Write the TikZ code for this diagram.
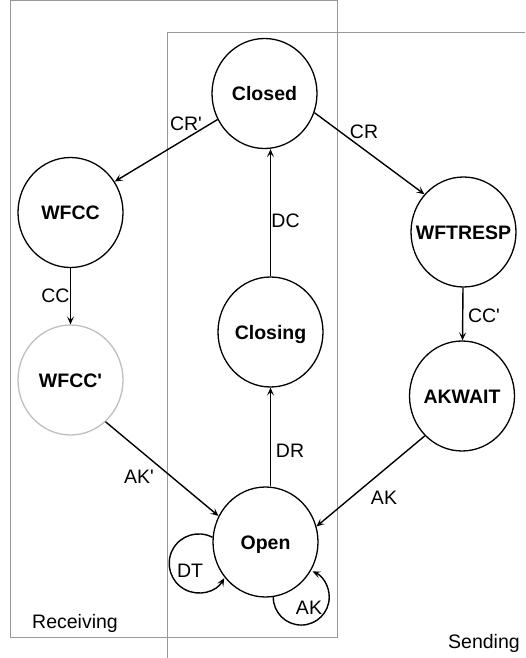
\documentclass[tikz,border=0pt]{standalone}
\usepackage{fontspec}
\setmainfont{Liberation Sans}
\usetikzlibrary{shapes.geometric,arrows.meta}

\begin{document}
\begin{tikzpicture}[x=1pt,y=-1pt,
  state/.style={ellipse, draw, line width=1.3pt, minimum width=105pt,
    minimum height=110pt, inner sep=0pt, text height=14pt, text depth=0pt,
    font=\fontsize{19.5}{23}\selectfont\bfseries},
  faded/.style={draw=black!25},
  region/.style={draw=black!40, line width=1pt},
  lbl/.style={inner sep=0pt, text height=14pt, text depth=0pt,
    font=\fontsize{19.5}{23}\selectfont},
  trans/.style={line width=1.4pt, -{Stealth[length=8pt,width=7pt,inset=3.5pt]}}]

\useasboundingbox (0,0) rectangle (525,658);

% the two regions of the protocol
\begin{scope}
  \clip (0,0) rectangle (525,658);
  \draw[region] (10.5,0.7) rectangle (337.5,637.5);
  \draw[region] (167,32.3) rectangle (560,700);
\end{scope}
\node[lbl, anchor=base west] (recv) at (32,628) {Receiving};
\node[lbl, anchor=base west] (send) at (448,648) {Sending};

% states
\node[state] (Closed)  at (264.5,93.5) {\makebox[0pt]{Closed}};
\node[state] (WFCC)    at (70.5,212.5) {\makebox[0pt]{WFCC}};
\node[state, faded] (WFCCp) at (70.5,380) {\makebox[0pt]{WFCC\textquotesingle}};
\node[state] (WFTRESP) at (463.5,232)  {\makebox[0pt]{WFTRESP}};
\node[state] (AKWAIT)  at (462,396)    {\makebox[0pt]{AKWAIT}};
\node[state] (Closing) at (270.5,332)  {\makebox[0pt]{Closing}};
\node[state] (Open)    at (265.5,542)  {\makebox[0pt]{Open}};

% transitions
\draw[trans] (Closed.209) -- (WFCC.35);
\draw[trans] (Closed.339) -- (WFTRESP.136);
\draw[trans] (WFCC) -- (WFCCp);
\draw[trans] (WFTRESP) -- (AKWAIT);
\draw[trans] (Closing.north) -- (Closing.north |- Closed.south);
\draw[trans] (Closing.south |- Open.north) -- (Closing.south);
\draw[trans] (WFCCp.310) -- (Open.151);
\draw[trans] (AKWAIT.227) -- (Open.17);
\draw[trans] (Open.175) arc[start angle=62, end angle=330, radius=29.5pt];
\draw[trans] (Open.278) arc[start angle=180, end angle=426, radius=28pt];

% transition labels
\node[lbl] (lCRp) at (186,124)   {CR\textquotesingle};
\node[lbl] (lCR)  at (364,132)   {CR};
\node[lbl] (lCC)  at (55.5,295)  {CC};
\node[lbl] (lCCp) at (484,315)   {CC\textquotesingle};
\node[lbl] (lDC)  at (285.5,220) {DC};
\node[lbl] (lDR)  at (290,450)   {DR};
\node[lbl] (lAKp) at (139,476)   {AK\textquotesingle};
\node[lbl] (lAK)  at (384,497)   {AK};
\node[lbl] (lDT)  at (190,570)   {DT};
\node[lbl] (lAKl) at (309,607)   {AK};
\end{tikzpicture}
\end{document}
